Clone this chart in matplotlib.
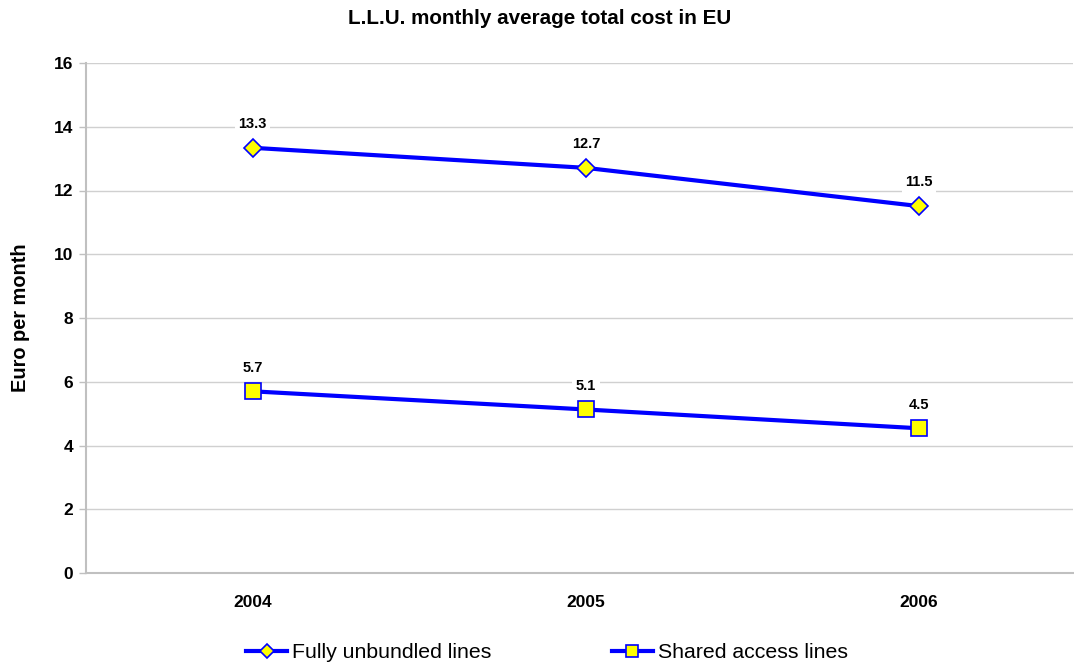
import matplotlib
matplotlib.use("Agg")
import matplotlib.pyplot as plt

plt.rcParams['font.family'] = ['Liberation Sans', 'DejaVu Sans']

years = ["2004", "2005", "2006"]
fully_unbundled = [13.34, 12.71, 11.51]
shared_access = [5.70, 5.13, 4.54]
yticks = [0, 2, 4, 6, 8, 10, 12, 14, 16]

fig = plt.figure(figsize=(10.74, 6.66), dpi=100)
ax = fig.add_axes([86 / 1074, 93 / 666, 987 / 1074, 510 / 666])

x = list(range(len(years)))
blue = "#0000ff"
ax.plot(x, fully_unbundled, color=blue, lw=3, marker='D', markersize=9,
        markerfacecolor='#ffff00', markeredgecolor=blue, markeredgewidth=1.2,
        label="Fully unbundled lines", zorder=3)
ax.plot(x, shared_access, color=blue, lw=3, marker='s', markersize=11,
        markerfacecolor='#ffff00', markeredgecolor=blue, markeredgewidth=1.2,
        label="Shared access lines", zorder=3)

for series in (fully_unbundled, shared_access):
    for xi, v in zip(x, series):
        ax.annotate(f"{v:.1f}", (xi, v), xytext=(0, 12), textcoords='offset points',
                    ha='center', va='bottom', fontsize=10.5, fontweight='bold',
                    bbox=dict(boxstyle='square,pad=0.25', fc='white', ec='none'), zorder=4)

ax.set_xlim(-0.5, 2.462)
ax.set_ylim(0, 16)
ax.set_yticks(yticks)
ax.set_xticks(x)
ax.set_xticklabels(years, fontsize=12.5, fontweight='bold')
ax.tick_params(axis='x', length=0, pad=16)
ax.tick_params(axis='y', length=5, width=1, color='#c0c0c0', labelsize=12.5, pad=4)
for lbl in ax.get_yticklabels():
    lbl.set_fontweight('bold')

ax.grid(axis='y', color='#d0d0d0', lw=1)
ax.set_axisbelow(True)
for s in ('top', 'right'):
    ax.spines[s].set_visible(False)
for s in ('left', 'bottom'):
    ax.spines[s].set_color('#c0c0c0')
    ax.spines[s].set_linewidth(1.5)

ax.set_ylabel("Euro per month", fontsize=14.4, fontweight='bold', labelpad=17)
fig.text(540 / 1074, 1 - 18 / 666, "L.L.U. monthly average total cost in EU",
         ha='center', va='center', fontsize=14.9, fontweight='bold')

leg = fig.legend(loc='center', bbox_to_anchor=(547 / 1074, 1 - 653 / 666), ncol=2,
                 frameon=False, fontsize=15.3, handlelength=1.9, handletextpad=0.23,
                 columnspacing=5.7, markerscale=0.8)

fig.savefig("out.png", dpi=100)
